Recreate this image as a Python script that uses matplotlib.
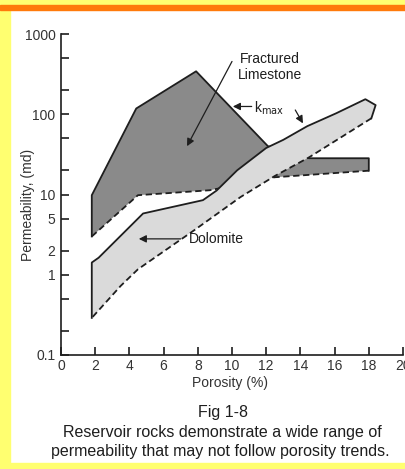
import numpy as np
import matplotlib
matplotlib.use("Agg")
import matplotlib.pyplot as plt
from matplotlib.patches import Rectangle

plt.rcParams["font.family"] = ["Liberation Sans", "DejaVu Sans"]

# Fractured limestone envelope: solid k_max edge, then dashed lower edge
lime_upper_phi = [1.8, 1.8, 4.4, 7.9, 12.1, 14.5, 18.0, 18.0]
lime_upper_k = [3.0, 9.8, 118, 343, 40, 28.3, 28.3, 19.8]
lime_lower_phi = [18.0, 12.5, 8.7, 4.5, 1.8]
lime_lower_k = [19.8, 16.4, 11.3, 9.8, 3.0]

# Dolomite envelope
dolo_upper_phi = [1.8, 1.8, 2.2, 4.8, 8.3, 9.1, 10.3, 12.0, 13.0, 14.4, 16.1, 17.8, 18.4, 18.15]
dolo_upper_k = [0.29, 1.42, 1.63, 5.8, 8.5, 11.2, 20, 38, 48, 71, 103, 154, 130, 89]
dolo_lower_phi = [18.15, 14.5, 12.5, 10.5, 7.8, 4.5, 3.5, 1.8]
dolo_lower_k = [89, 29, 17, 9.3, 3.6, 1.17, 0.73, 0.29]

x_ticks = [0, 2, 4, 6, 8, 10, 12, 14, 16, 18, 20]
y_ticks = [0.1, 0.2, 0.5, 1, 2, 5, 10, 20, 50, 100, 200, 500, 1000]
y_tick_labels = ["0.1", "", "", "1", "2", "5", "10", "", "", "100", "", "", "1000"]

ink = "#1e1e1e"
W, H = 405, 469
fig = plt.figure(figsize=(W / 100, H / 100), dpi=100)
fig.patch.set_facecolor("white")

# slide frame
fig.add_artist(Rectangle((0, 0), 10 / W, 1, transform=fig.transFigure, color="#ffff70", zorder=0))
fig.add_artist(Rectangle((0, 1 - 4 / H), 1, 4 / H, transform=fig.transFigure, color="#ffff70", zorder=0))
fig.add_artist(Rectangle((0, 0), 1, 6 / H, transform=fig.transFigure, color="#ffff70", zorder=0))
fig.add_artist(Rectangle((0, 1 - 10 / H), 1, 5 / H, transform=fig.transFigure, color="#ff7a0a", zorder=0))

ax = fig.add_axes([61 / W, 1 - 355 / H, 342 / W, 321 / H])
ax.set_yscale("log")
ax.set_xlim(0, 20)
ax.set_ylim(0.1, 1000)
ax.patch.set_alpha(0)

# limestone first, dolomite laid over it
ax.fill(lime_upper_phi + lime_lower_phi, lime_upper_k + lime_lower_k,
        color="#8a8a8a", lw=0, zorder=1)
ax.plot(lime_upper_phi, lime_upper_k, color=ink, lw=1.3, zorder=2)
ax.plot(lime_lower_phi, lime_lower_k, color=ink, lw=1.3, ls=(0, (3.5, 2)), zorder=2)

ax.fill(dolo_upper_phi + dolo_lower_phi, dolo_upper_k + dolo_lower_k,
        color="#dadada", lw=0, zorder=3)
ax.plot(dolo_upper_phi, dolo_upper_k, color=ink, lw=1.3, zorder=4)
ax.plot(dolo_lower_phi, dolo_lower_k, color=ink, lw=1.3, ls=(0, (3.5, 2)), zorder=4)

arrow = dict(arrowstyle="-|>", color=ink, lw=0.9, mutation_scale=11, shrinkA=0, shrinkB=0)
ax.text(12.2, 390, "Fractured\nLimestone", ha="center", va="center", fontsize=10,
        color=ink, linespacing=1.2, zorder=5)
ax.annotate("", xy=(7.37, 40), xytext=(10.0, 455), arrowprops=arrow, zorder=5)
ax.text(11.3, 118, r"k$_{\rm max}$", ha="left", va="center", fontsize=10, color=ink, zorder=5)
ax.annotate("", xy=(10.05, 125), xytext=(11.15, 125), arrowprops=arrow, zorder=5)
ax.annotate("", xy=(14.15, 77), xytext=(13.7, 113), arrowprops=arrow, zorder=5)
ax.text(7.45, 2.8, "Dolomite", ha="left", va="center", fontsize=10, color=ink, zorder=5)
ax.annotate("", xy=(4.55, 2.8), xytext=(7.0, 2.8), arrowprops=arrow, zorder=5)

for side in ["top", "right"]:
    ax.spines[side].set_visible(False)
for side in ["left", "bottom"]:
    ax.spines[side].set_color(ink)
    ax.spines[side].set_linewidth(1.2)

ax.set_xticks(x_ticks)
ax.set_yticks(y_ticks)
ax.set_yticklabels(y_tick_labels)
ax.yaxis.set_minor_locator(matplotlib.ticker.NullLocator())
ax.tick_params(direction="in", length=6, width=1.2, color=ink, labelcolor="#333333",
               labelsize=10, pad=3)
ax.tick_params(axis="y", pad=4)

fig.text(28 / W, 1 - 205 / H, "Permeability, (md)", rotation=90, ha="center", va="center",
         fontsize=10, color="#333333")
fig.text(230 / W, 1 - 383 / H, "Porosity (%)", ha="center", va="center",
         fontsize=10, color="#333333")

fig.text(223 / W, 1 - 412 / H, "Fig 1-8", ha="center", va="center", fontsize=11.5, color=ink)
fig.text(222 / W, 1 - 432 / H, "Reservoir rocks demonstrate a wide range of",
         ha="center", va="center", fontsize=11.5, color=ink)
fig.text(220 / W, 1 - 451 / H, "permeability that may not follow porosity trends.",
         ha="center", va="center", fontsize=11.5, color=ink)

fig.savefig("out.png", dpi=100)
